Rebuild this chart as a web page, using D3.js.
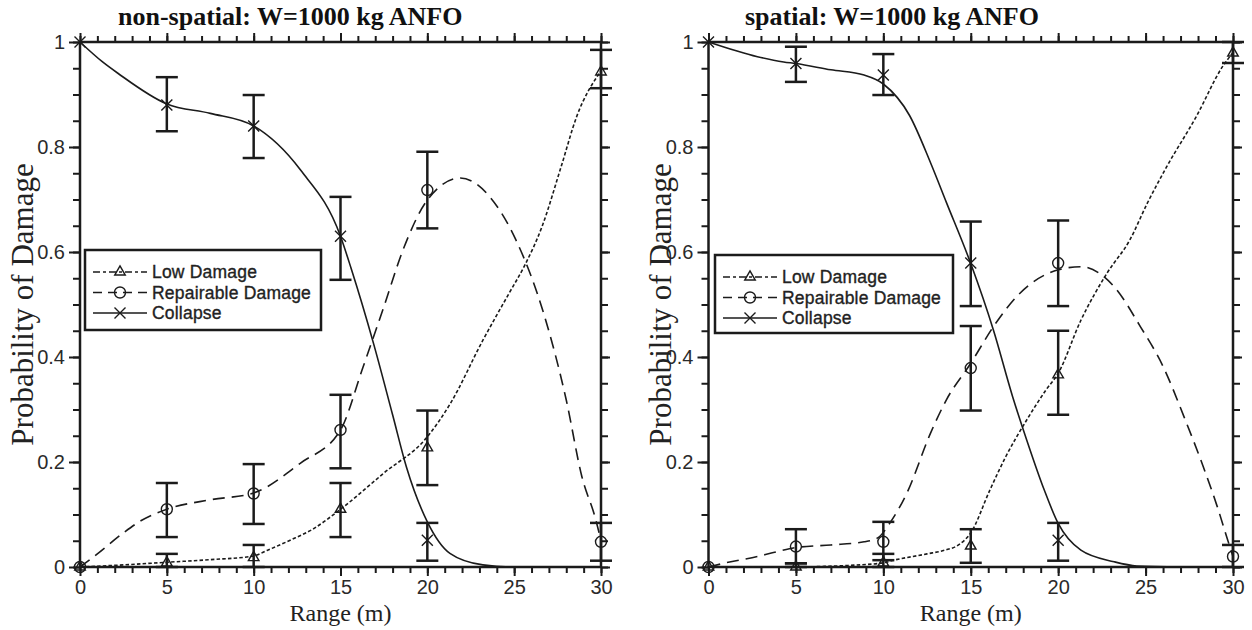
<!DOCTYPE html>
<html>
<head>
<meta charset="utf-8">
<script src="https://cdn.jsdelivr.net/npm/d3@7"></script>
<style>
  body { margin: 0; background: #fff; }
  svg { display: block; }
</style>
</head>
<body>
<svg id="chart" width="1252" height="630"></svg>
<script>
// ---- data -------------------------------------------------------------
const rangeTicks = [0, 5, 10, 15, 20, 25, 30];
const probTicks = [0, 0.2, 0.4, 0.6, 0.8, 1];
const seriesNames = ["Low Damage", "Repairable Damage", "Collapse"];

// observed ranges (m)
const ranges = [0, 5, 10, 15, 20, 30];

// non-spatial: observed probabilities with lower / upper bounds
const nsLow      = [0, 0.008, 0.018, 0.11, 0.227, 0.943];
const nsLowLo    = [null, 0, 0, 0.057, 0.156, 0.912];
const nsLowHi    = [null, 0.025, 0.042, 0.16, 0.298, 0.985];
const nsRepair   = [0, 0.11, 0.14, 0.261, 0.718, 0.048];
const nsRepairLo = [null, 0.057, 0.082, 0.188, 0.645, 0.012];
const nsRepairHi = [null, 0.16, 0.196, 0.328, 0.791, 0.084];
const nsCollapse   = [1, 0.88, 0.84, 0.63, 0.051, null];
const nsCollapseLo = [null, 0.83, 0.779, 0.547, 0.012, null];
const nsCollapseHi = [null, 0.933, 0.899, 0.705, 0.084, null];

// non-spatial: fitted curves [range, probability]
const nsLowFit = [[0,0],[2.5,0.004],[5,0.009],[7.5,0.014],[10,0.021],[10.8,0.032],[12.1,0.051],[13.4,0.072],
  [15,0.11],[17.5,0.179],[20,0.248],[21.3,0.31],[23.2,0.432],[24.7,0.521],[25.6,0.574],[26.6,0.648],
  [27.7,0.762],[28.6,0.858],[30,0.945]];
const nsRepairFit = [[0,0],[1,0.025],[2.5,0.065],[3.5,0.088],[5,0.11],[7.5,0.128],[10,0.141],[12.7,0.198],
  [15,0.261],[16.3,0.381],[17.5,0.496],[18.6,0.604],[20,0.699],[21.9,0.741],[23.6,0.705],[25.1,0.623],
  [26.7,0.483],[28,0.318],[28.9,0.172],[29.7,0.09],[30,0.05]];
const nsCollapseFit = [[0,1],[1.3,0.962],[2.2,0.94],[5,0.882],[7.5,0.864],[10,0.84],[12.7,0.756],[15,0.63],
  [15.6,0.57],[16.9,0.426],[18,0.29],[18.8,0.19],[20,0.086],[21.3,0.026],[23.2,0.004],[25,0],[27,0]];

// spatial: observed probabilities with lower / upper bounds
const spLow      = [0, 0, 0.008, 0.04, 0.366, 0.979];
const spLowLo    = [null, 0, 0, 0.008, 0.29, 0.96];
const spLowHi    = [null, 0.007, 0.025, 0.072, 0.45, 1.0];
const spRepair   = [0, 0.039, 0.048, 0.379, 0.579, 0.02];
const spRepairLo = [null, 0.007, 0.013, 0.298, 0.497, 0];
const spRepairHi = [null, 0.072, 0.086, 0.459, 0.66, 0.042];
const spCollapse   = [1, 0.959, 0.937, 0.579, 0.051, null];
const spCollapseLo = [null, 0.924, 0.899, 0.497, 0.012, null];
const spCollapseHi = [null, 0.991, 0.977, 0.658, 0.084, null];

// spatial: fitted curves [range, probability]
const spLowFit = [[0,0],[5,0],[6.5,0.001],[8,0.003],[10,0.008],[10.6,0.013],[12.5,0.025],[13.5,0.032],
  [14.3,0.042],[15,0.065],[16.1,0.147],[17,0.21],[18.2,0.28],[19.3,0.337],[20,0.369],[21.3,0.47],
  [22.8,0.56],[24.1,0.623],[25.1,0.693],[26.2,0.762],[27.9,0.858],[29.4,0.953],[30,0.98]];
const spRepairFit = [[0,0],[1,0.008],[2.8,0.02],[3.9,0.029],[5,0.037],[7,0.042],[8.9,0.048],[9.7,0.056],
  [10.4,0.085],[11.35,0.141],[12.7,0.255],[13.6,0.318],[15,0.388],[16.3,0.458],[17.8,0.521],[20,0.566],
  [21.3,0.572],[23.2,0.534],[24.7,0.458],[26,0.382],[27.2,0.286],[28.3,0.191],[29.1,0.115],[29.7,0.051],[30,0.02]];
const spCollapseFit = [[0,1],[2.8,0.972],[4.3,0.962],[5,0.959],[7,0.947],[8.9,0.937],[10,0.92],[11.5,0.86],
  [12.7,0.77],[13.6,0.695],[15,0.578],[16.3,0.451],[17.4,0.324],[18.2,0.242],[19.2,0.147],[20,0.083],
  [21.3,0.032],[23.2,0.01],[24.5,0.002],[27,0]];

// ---- drawing ----------------------------------------------------------
const INK = "#1b1b1b";
const SERIF = "'Liberation Serif', 'Times New Roman', serif";
const SANS = "'Liberation Sans', Arial, sans-serif";
const svg = d3.select("#chart");

const styles = {
  "Low Damage":        { dash: "3.5,2.2", legendDash: "7,3,3,3", marker: "triangle" },
  "Repairable Damage": { dash: "12,7",    legendDash: "9,6",     marker: "circle" },
  "Collapse":          { dash: null,      legendDash: null,      marker: "cross" }
};

function drawMarker(g, kind, cx, cy) {
  if (kind === "circle") {
    g.append("circle").attr("cx", cx).attr("cy", cy).attr("r", 5.5)
      .attr("fill", "none").attr("stroke", INK).attr("stroke-width", 1.4);
  } else if (kind === "triangle") {
    g.append("path").attr("d", d3.symbol(d3.symbolTriangle, 48)())
      .attr("transform", `translate(${cx},${cy})`)
      .attr("fill", "none").attr("stroke", INK).attr("stroke-width", 1.4);
  } else {
    const s = 5.5;
    g.append("path").attr("d", `M${cx - s},${cy - s}L${cx + s},${cy + s}M${cx - s},${cy + s}L${cx + s},${cy - s}`)
      .attr("fill", "none").attr("stroke", INK).attr("stroke-width", 1.4);
  }
}

function drawPanel(p) {
  const x = d3.scaleLinear().domain([0, 30]).range([p.left, p.right]);
  const y = d3.scaleLinear().domain([0, 1]).range([567, 42]);
  const g = svg.append("g");

  const minorX = d3.range(0, 31, 1);
  const minorY = d3.range(0, 21, 1).map(i => i * 0.05);

  const styleAxis = sel => {
    sel.select(".domain").remove();
    sel.selectAll(".tick line").attr("stroke", INK).attr("stroke-width", 2);
    sel.selectAll(".tick text").attr("fill", "#2a2a2a").attr("font-family", SANS).attr("font-size", 20);
  };

  // minor ticks on all four sides
  g.append("g").attr("transform", `translate(0,${y(0)})`)
    .call(d3.axisBottom(x).tickValues(minorX).tickSize(6).tickFormat("")).call(styleAxis);
  g.append("g").attr("transform", `translate(0,${y(1)})`)
    .call(d3.axisTop(x).tickValues(minorX).tickSize(6).tickFormat("")).call(styleAxis);
  g.append("g").attr("transform", `translate(${x(0)},0)`)
    .call(d3.axisLeft(y).tickValues(minorY).tickSize(7).tickFormat("")).call(styleAxis);
  g.append("g").attr("transform", `translate(${x(30)},0)`)
    .call(d3.axisRight(y).tickValues(minorY).tickSize(7).tickFormat("")).call(styleAxis);

  // major ticks
  g.append("g").attr("transform", `translate(0,${y(0)})`)
    .call(d3.axisBottom(x).tickValues(rangeTicks).tickSize(9).tickPadding(4).tickFormat(d3.format("d")))
    .call(styleAxis);
  g.append("g").attr("transform", `translate(0,${y(1)})`)
    .call(d3.axisTop(x).tickValues(rangeTicks).tickSize(9).tickFormat("")).call(styleAxis);
  g.append("g").attr("transform", `translate(${x(0)},0)`)
    .call(d3.axisLeft(y).tickValues(probTicks).tickSize(11).tickPadding(4).tickFormat(d3.format("~g")))
    .call(styleAxis);
  g.append("g").attr("transform", `translate(${x(30)},0)`)
    .call(d3.axisRight(y).tickValues(probTicks).tickSize(9).tickFormat("")).call(styleAxis);

  // frame
  g.append("rect").attr("x", x(0)).attr("y", y(1))
    .attr("width", x(30) - x(0)).attr("height", y(0) - y(1))
    .attr("fill", "none").attr("stroke", INK).attr("stroke-width", 2.5);

  // fitted curves
  const line = d3.line().x(d => x(d[0])).y(d => y(d[1])).curve(d3.curveMonotoneX);
  p.series.forEach(s => {
    g.append("path").datum(s.fit).attr("d", line)
      .attr("fill", "none").attr("stroke", INK).attr("stroke-width", 1.6)
      .attr("stroke-dasharray", styles[s.name].dash);
  });

  // error bars and observed points
  p.series.forEach(s => {
    ranges.forEach((r, i) => {
      const v = s.values[i];
      if (v === null) return;
      const lo = s.lo[i], hi = s.hi[i];
      if (lo !== null && hi !== null) {
        const cx = x(r);
        g.append("line").attr("x1", cx).attr("x2", cx).attr("y1", y(lo)).attr("y2", y(hi))
          .attr("stroke", INK).attr("stroke-width", 2.5);
        [lo, hi].forEach(b => {
          g.append("line").attr("x1", cx - 11).attr("x2", cx + 11).attr("y1", y(b)).attr("y2", y(b))
            .attr("stroke", INK).attr("stroke-width", 2.5);
        });
      }
      drawMarker(g, styles[s.name].marker, x(r), y(v));
    });
  });

  // legend
  const lg = g.append("g");
  lg.append("rect").attr("x", p.legend.x).attr("y", p.legend.y)
    .attr("width", p.legend.w).attr("height", p.legend.h)
    .attr("fill", "#fff").attr("stroke", INK).attr("stroke-width", 2.5);
  seriesNames.forEach((name, i) => {
    const cy = p.legend.y + 22 + i * 20.5;
    const lx0 = p.legend.x + 8, lx1 = p.legend.x + 62, mx = p.legend.x + 35;
    lg.append("line").attr("x1", lx0).attr("x2", lx1).attr("y1", cy).attr("y2", cy)
      .attr("stroke", INK).attr("stroke-width", 1.6)
      .attr("stroke-dasharray", styles[name].legendDash);
    drawMarker(lg, styles[name].marker, mx, cy);
    lg.append("text").attr("x", p.legend.x + 67).attr("y", cy).attr("dy", "0.36em")
      .attr("font-family", SANS).attr("font-size", 17.5).attr("fill", "#222")
      .attr("stroke", "#222").attr("stroke-width", 0.35).attr("letter-spacing", 0.2)
      .text(name);
  });

  // titles
  g.append("text").attr("x", p.titleX).attr("y", 25)
    .attr("font-family", SERIF).attr("font-weight", "bold").attr("font-size", 26).attr("fill", "#111")
    .text(p.title);
  g.append("text").attr("x", (x(0) + x(30)) / 2).attr("y", 621).attr("text-anchor", "middle")
    .attr("font-family", SERIF).attr("font-size", 24).attr("fill", "#222")
    .text("Range (m)");
  g.append("text").attr("transform", `translate(${p.ylabelX},${(y(0) + y(1)) / 2}) rotate(-90)`)
    .attr("text-anchor", "middle").attr("dy", "0.35em")
    .attr("font-family", SERIF).attr("font-size", 31).attr("fill", "#222")
    .text("Probability of Damage");
}

const panels = [
  {
    title: "non-spatial: W=1000 kg ANFO", titleX: 118, left: 80, right: 601, ylabelX: 22,
    legend: { x: 85, y: 250, w: 236, h: 80 },
    series: [
      { name: "Low Damage", values: nsLow, lo: nsLowLo, hi: nsLowHi, fit: nsLowFit },
      { name: "Repairable Damage", values: nsRepair, lo: nsRepairLo, hi: nsRepairHi, fit: nsRepairFit },
      { name: "Collapse", values: nsCollapse, lo: nsCollapseLo, hi: nsCollapseHi, fit: nsCollapseFit }
    ]
  },
  {
    title: "spatial: W=1000 kg ANFO", titleX: 745, left: 708.5, right: 1233, ylabelX: 660,
    legend: { x: 715, y: 255, w: 238, h: 78 },
    series: [
      { name: "Low Damage", values: spLow, lo: spLowLo, hi: spLowHi, fit: spLowFit },
      { name: "Repairable Damage", values: spRepair, lo: spRepairLo, hi: spRepairHi, fit: spRepairFit },
      { name: "Collapse", values: spCollapse, lo: spCollapseLo, hi: spCollapseHi, fit: spCollapseFit }
    ]
  }
];

panels.forEach(drawPanel);
</script>
</body>
</html>
